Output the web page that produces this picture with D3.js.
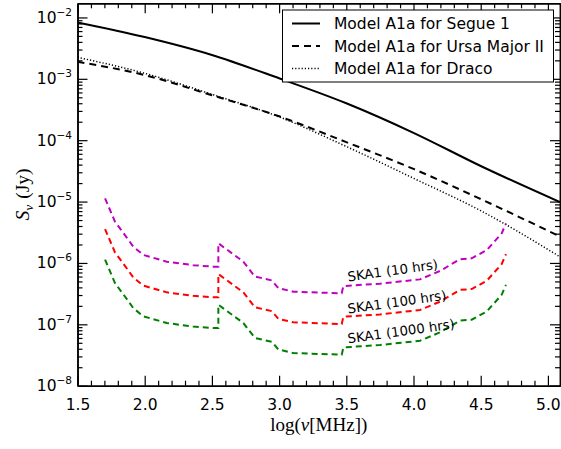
<!DOCTYPE html>
<html>
<head>
<meta charset="utf-8">
<script src="https://cdn.jsdelivr.net/npm/d3@7"></script>
<style>
body { margin: 0; background: #fff; }
svg { display: block; }
text { font-family: "DejaVu Sans", sans-serif; fill: #000; }
</style>
</head>
<body>
<div id="container"><svg></svg></div>
<script>
let width = 561;
let height = 449;

// log(nu [MHz]) sample points for the model curves
let model_x = [1.5, 2.0, 2.5, 3.0, 3.5, 4.0, 4.5, 5.09];
// S_nu (Jy)
let segue1 = [8.3e-3, 4.8e-3, 2.45e-3, 1.02e-3, 4.0e-4, 1.32e-4, 3.8e-5, 9.8e-6];
let ursa2  = [1.9e-3, 1.15e-3, 5.4e-4, 2.45e-4, 9.3e-5, 3.4e-5, 1.1e-5, 2.7e-6];
let draco  = [2.24e-3, 1.23e-3, 5.6e-4, 2.4e-4, 7.9e-5, 2.4e-5, 7.1e-6, 1.26e-6];

// SKA1 sensitivity curves
let ska_x = [1.705, 1.779, 1.853, 1.915, 1.99, 2.164, 2.36, 2.51, 2.548, 2.548, 2.734, 2.82, 2.945, 2.994,
             3.106, 3.466, 3.478, 3.75, 4.048, 4.197, 4.346, 4.433, 4.545, 4.656, 4.688];
let ska_10h   = [1.13e-5, 4.7e-6, 2.84e-6, 1.84e-6, 1.35e-6, 1.05e-6, 9.2e-7, 8.7e-7, 8.7e-7, 2.09e-6, 1.05e-6, 6.0e-7, 5.2e-7, 3.9e-7,
                 3.4e-7, 3.2e-7, 4.2e-7, 4.6e-7, 5.4e-7, 7.4e-7, 1.15e-6, 1.19e-6, 1.62e-6, 3.03e-6, 4.4e-6];
let ska_100h  = [3.57e-6, 1.48e-6, 8.98e-7, 5.82e-7, 4.27e-7, 3.32e-7, 2.91e-7, 2.75e-7, 2.75e-7, 6.6e-7, 3.32e-7, 1.9e-7, 1.64e-7, 1.23e-7,
                 1.08e-7, 1.01e-7, 1.33e-7, 1.45e-7, 1.71e-7, 2.34e-7, 3.64e-7, 3.76e-7, 5.12e-7, 9.58e-7, 1.39e-6];
let ska_1000h = [1.13e-6, 4.7e-7, 2.84e-7, 1.84e-7, 1.35e-7, 1.05e-7, 9.2e-8, 8.7e-8, 8.7e-8, 2.09e-7, 1.05e-7, 6.0e-8, 5.2e-8, 3.9e-8,
                 3.4e-8, 3.2e-8, 4.2e-8, 4.6e-8, 5.4e-8, 7.4e-8, 1.15e-7, 1.19e-7, 1.62e-7, 3.03e-7, 4.4e-7];

let ska_labels = ["SKA1 (10 hrs)", "SKA1 (100 hrs)", "SKA1 (1000 hrs)"];
let ska_label_pos = [[3.515, 5.0e-7], [3.515, 1.5e-7], [3.515, 4.9e-8]];

let legend_labels = ["Model A1a for Segue 1", "Model A1a for Ursa Major II", "Model A1a for Draco"];

let x_ticks = [1.5, 2.0, 2.5, 3.0, 3.5, 4.0, 4.5, 5.0];
let y_ticks = [1e-8, 1e-7, 1e-6, 1e-5, 1e-4, 1e-3, 1e-2];

function draw_chart() {
    let svg = d3.select('#container').select('svg')
        .attr('width', width)
        .attr('height', height);

    let x0 = 77.5, x1 = 560, y0 = 385.7, y1 = 3.3;
    let x = d3.scaleLinear().domain([1.5, 5.09]).range([x0, x1]);
    let y = d3.scaleLog().domain([1e-8, 1.7e-2]).range([y0, y1]);

    // minor tick positions
    let x_minor = d3.range(15, 51).map(d => d / 10).filter(d => x_ticks.indexOf(d) < 0);
    let y_minor = [];
    for (let e = -8; e <= -2; e++)
        for (let m = 2; m <= 9; m++) {
            let v = m * Math.pow(10, e);
            if (v < 1.7e-2) y_minor.push(v);
        }

    svg.append("clipPath").attr("id", "clip")
        .append("rect").attr("x", x0).attr("y", y1).attr("width", x1 - x0).attr("height", y0 - y1);

    let plot = svg.append("g").attr("clip-path", "url(#clip)");
    let line = d3.line().curve(d3.curveMonotoneX);

    // model curves
    let models = [
        {vals: segue1, dash: null, w: 2},
        {vals: ursa2, dash: "7,5", w: 2},
        {vals: draco, dash: "1.2,2", w: 1.5}
    ];
    models.forEach(m => {
        plot.append("path")
            .attr("d", line(model_x.map((v, i) => [x(v), y(m.vals[i])])))
            .attr("fill", "none")
            .attr("stroke", "#000")
            .attr("stroke-width", m.w)
            .attr("stroke-dasharray", m.dash);
    });

    // SKA curves
    let lin = d3.line();
    let skas = [
        {vals: ska_10h, color: "#bf00bf"},
        {vals: ska_100h, color: "#ff0000"},
        {vals: ska_1000h, color: "#007f00"}
    ];
    skas.forEach(s => {
        plot.append("path")
            .attr("d", lin(ska_x.map((v, i) => [x(v), y(s.vals[i])])))
            .attr("fill", "none")
            .attr("stroke", s.color)
            .attr("stroke-width", 2)
            .attr("stroke-dasharray", "6,4");
    });

    ska_labels.forEach((t, i) => {
        let px = x(ska_label_pos[i][0]), py = y(ska_label_pos[i][1]);
        svg.append("text")
            .attr("transform", `translate(${px},${py}) rotate(-8)`)
            .attr("font-size", 13.3)
            .text(t);
    });

    // axes
    let axisStyle = g => {
        g.select(".domain").attr("stroke-width", 1.5);
        g.selectAll(".tick line").attr("stroke-width", 1.2);
    };
    svg.append("g").attr("transform", `translate(0,${y0})`)
        .call(d3.axisBottom(x).tickValues(x_minor).tickSize(-5).tickSizeOuter(0).tickFormat(""))
        .call(axisStyle);
    let xAxis = svg.append("g").attr("transform", `translate(0,${y0})`)
        .call(d3.axisBottom(x).tickValues(x_ticks).tickSize(-10).tickSizeOuter(0).tickPadding(13)
            .tickFormat(d3.format(".1f")))
        .call(axisStyle);
    xAxis.selectAll("text").attr("font-size", 15.5);

    svg.append("g").attr("transform", `translate(0,${y1})`)
        .call(d3.axisTop(x).tickValues(x_minor).tickSize(-5).tickSizeOuter(0).tickFormat(""))
        .call(axisStyle);
    svg.append("g").attr("transform", `translate(0,${y1})`)
        .call(d3.axisTop(x).tickValues(x_ticks).tickSize(-10).tickSizeOuter(0).tickFormat(""))
        .call(axisStyle);

    svg.append("g").attr("transform", `translate(${x0},0)`)
        .call(d3.axisLeft(y).tickValues(y_minor).tickSize(-5).tickSizeOuter(0).tickFormat(""))
        .call(axisStyle);
    let yAxis = svg.append("g").attr("transform", `translate(${x0},0)`)
        .call(d3.axisLeft(y).tickValues(y_ticks).tickSize(-10).tickSizeOuter(0).tickPadding(5.5))
        .call(axisStyle);
    yAxis.selectAll(".tick text").each(function (d) {
        let e = Math.round(Math.log10(d));
        let t = d3.select(this).text("").attr("font-size", 15.5);
        t.append("tspan").text("10");
        t.append("tspan").attr("dy", -7).attr("font-size", 10.5).text("\u2212" + (-e));
    });

    svg.append("g").attr("transform", `translate(${x1},0)`)
        .call(d3.axisRight(y).tickValues(y_minor).tickSize(-5).tickSizeOuter(0).tickFormat(""))
        .call(axisStyle);
    svg.append("g").attr("transform", `translate(${x1},0)`)
        .call(d3.axisRight(y).tickValues(y_ticks).tickSize(-10).tickSizeOuter(0).tickFormat(""))
        .call(axisStyle);

    // axis labels (serif, math style)
    let serif = '"Liberation Serif", "DejaVu Serif", serif';
    let xl = svg.append("text")
        .attr("x", (x0 + x1) / 2).attr("y", 431)
        .attr("text-anchor", "middle")
        .style("font-family", serif)
        .attr("font-size", 19);
    xl.append("tspan").text("log(");
    xl.append("tspan").style("font-style", "italic").text("ν");
    xl.append("tspan").text("[MHz])");

    let yl = svg.append("text")
        .attr("transform", `translate(29,${(y0 + y1) / 2}) rotate(-90)`)
        .attr("text-anchor", "middle")
        .style("font-family", serif)
        .attr("font-size", 19.5);
    yl.append("tspan").style("font-style", "italic").text("S");
    yl.append("tspan").style("font-style", "italic").attr("font-size", 13.5).attr("dy", 4).text("ν");
    yl.append("tspan").attr("dy", -4).attr("dx", 6).text("(Jy)");

    // legend
    let lg = svg.append("g");
    lg.append("rect")
        .attr("x", 282.5).attr("y", 10).attr("width", 271).attr("height", 72)
        .attr("fill", "#fff").attr("stroke", "#000").attr("stroke-width", 1);
    legend_labels.forEach((t, i) => {
        let ly = 23.5 + i * 22.5;
        lg.append("line")
            .attr("x1", 292).attr("x2", 320).attr("y1", ly).attr("y2", ly)
            .attr("stroke", "#000")
            .attr("stroke-width", models[i].w)
            .attr("stroke-dasharray", models[i].dash);
        lg.append("text")
            .attr("x", 334).attr("y", ly + 5.5)
            .attr("font-size", 15.5)
            .text(t);
    });
}

draw_chart();
</script>
</body>
</html>
